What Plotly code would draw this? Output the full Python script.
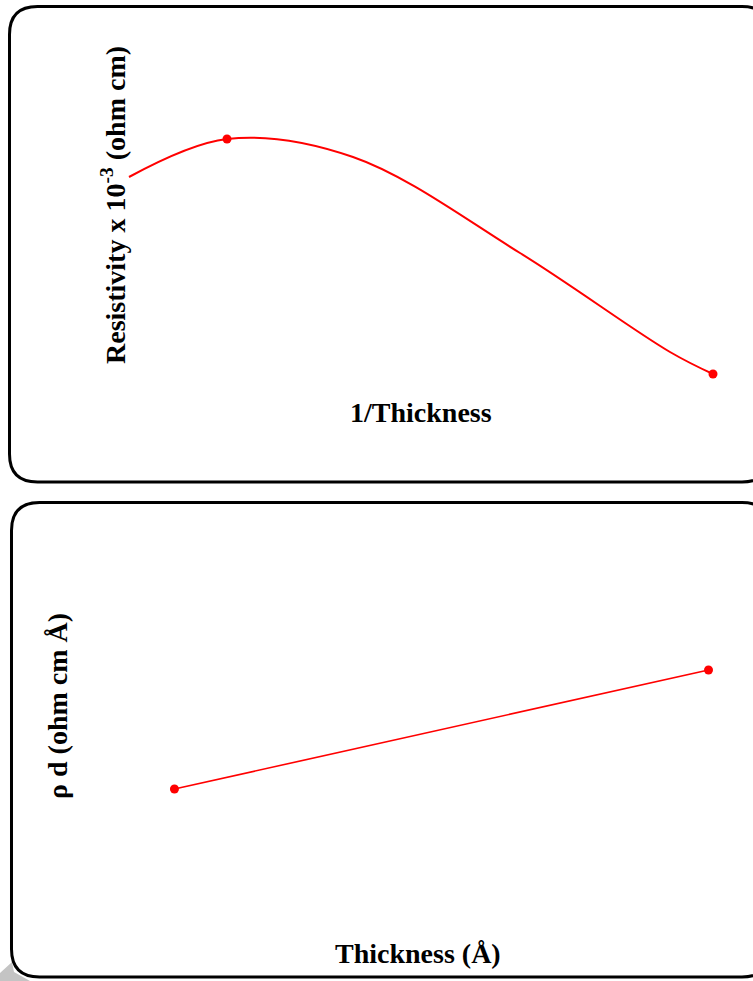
import plotly.graph_objects as go

W, H = 753, 981

# ---- data (arbitrary units) ----
# Top panel: resistivity (x10^-3 ohm cm) vs 1/thickness
top_curve_x = [0.00, 0.98, 2.24, 3.91, 5.41, 5.84]
top_curve_y = [2.23, 2.61, 2.43, 1.47, 0.48, 0.26]
top_marker_x = [0.98, 5.84]
top_marker_y = [2.61, 0.26]

# Bottom panel: rho*d (ohm cm A) vs thickness (A)
bot_x = [490, 1990]
bot_y = [2.0, 3.0]

RED = "#ff0000"
FONT = "Liberation Serif"

fig = go.Figure()
fig.add_trace(go.Scatter(x=top_curve_x, y=top_curve_y, mode="lines",
                         line=dict(color=RED, width=2, shape="spline", smoothing=1.0),
                         xaxis="x", yaxis="y", hoverinfo="skip"))
fig.add_trace(go.Scatter(x=top_marker_x, y=top_marker_y, mode="markers",
                         marker=dict(color=RED, size=9),
                         xaxis="x", yaxis="y"))
fig.add_trace(go.Scatter(x=bot_x, y=bot_y, mode="lines+markers",
                         line=dict(color=RED, width=1.6),
                         marker=dict(color=RED, size=9),
                         xaxis="x2", yaxis="y2"))

def px(x, y):
    return x / W, 1 - y / H

def rounded_box(x0, y0, x1, y1, r):
    def P(x, y):
        a, b = px(x, y)
        return f"{a:.5f},{b:.5f}"
    path = (f"M {P(x0 + r, y0)} L {P(x1 - r, y0)} Q {P(x1, y0)} {P(x1, y0 + r)} "
            f"L {P(x1, y1 - r)} Q {P(x1, y1)} {P(x1 - r, y1)} "
            f"L {P(x0 + r, y1)} Q {P(x0, y1)} {P(x0, y1 - r)} "
            f"L {P(x0, y0 + r)} Q {P(x0, y0)} {P(x0 + r, y0)} Z")
    return path

def poly(points):
    s = []
    for i, (x, y) in enumerate(points):
        a, b = px(x, y)
        s.append(("M " if i == 0 else "L ") + f"{a:.5f},{b:.5f}")
    return " ".join(s) + " Z"

shapes = [
    dict(type="path", xref="paper", yref="paper", layer="below",
         path=poly([(0, 973), (12, 962), (14, 972), (30, 981), (0, 981)]),
         fillcolor="#c4c4c4", line=dict(width=0)),
    dict(type="path", xref="paper", yref="paper", layer="below",
         path=rounded_box(9.5, 6.5, 770, 482, 28),
         fillcolor="white", line=dict(color="black", width=3)),
    dict(type="path", xref="paper", yref="paper", layer="below",
         path=rounded_box(11.5, 502.5, 770, 977, 28),
         fillcolor="white", line=dict(color="black", width=3)),
]

def ann(text, x, y, angle=0, size=28):
    a, b = px(x, y)
    return dict(text=text, x=a, y=b, xref="paper", yref="paper", showarrow=False,
                textangle=angle, xanchor="center", yanchor="middle",
                font=dict(family=FONT, size=size, color="black"))

annotations = [
    ann("<b>Resistivity x 10<sup>-3</sup> (ohm cm)</b>", 114, 205, -90),
    ann("<b>1/Thickness</b>", 421, 412),
    ann("<b>ρ d (ohm cm Å)</b>", 57, 706, -90),
    ann("<b>Thickness (Å)</b>", 418, 953),
]

ax_common = dict(visible=False, showgrid=False, zeroline=False, fixedrange=True)

fig.update_layout(
    width=W, height=H,
    margin=dict(l=0, r=0, t=0, b=0),
    paper_bgcolor="white", plot_bgcolor="rgba(0,0,0,0)",
    showlegend=False,
    xaxis=dict(domain=[0, 1], range=[-1.29, 6.24], anchor="y", **ax_common),
    yaxis=dict(domain=[0.5, 1], range=[-0.905, 4.0], anchor="x", **ax_common),
    xaxis2=dict(domain=[0, 1], range=[0, 2115], anchor="y2", **ax_common),
    yaxis2=dict(domain=[0, 0.5], range=[0.387, 4.508], anchor="x2", **ax_common),
    shapes=shapes,
    annotations=annotations,
)

fig.write_html("out.html", config={"displayModeBar": False},
               post_script="document.body.style.margin='0';document.body.style.overflow='hidden';")
